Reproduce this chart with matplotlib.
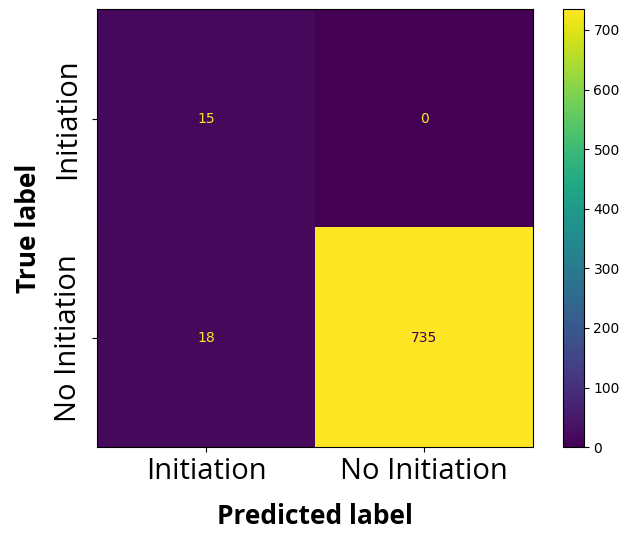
import numpy as np
import matplotlib
matplotlib.use('Agg')
from matplotlib import pyplot as plt

# class names and counts
labels = ['Initiation', 'No Initiation']
counts = [[15, 0],
          [18, 735]]
cbar_ticks = [0, 100, 200, 300, 400, 500, 600, 700]

cm = np.array(counts)

fig = plt.figure(figsize=(6.27, 5.33), dpi=100)
ax = fig.add_axes([0.155, 0.161, 0.695, 0.822])
cax = fig.add_axes([0.898, 0.161, 0.033, 0.822])

cmap = plt.get_cmap('viridis')
im = ax.imshow(cm, cmap=cmap, aspect='auto', vmin=0, vmax=cm.max())

thresh = (cm.max() + cm.min()) / 2.0
for i in range(cm.shape[0]):
    for j in range(cm.shape[1]):
        # light text on dark cells, dark text on light ones
        c = cmap(1.0) if cm[i, j] < thresh else cmap(0.0)
        ax.text(j, i, str(cm[i, j]), ha='center', va='center', color=c, fontsize=10)

big = ['Open Sans', 'DejaVu Sans']
ax.set_xticks(range(len(labels)))
ax.set_yticks(range(len(labels)))
ax.set_xticklabels(labels, fontsize=21, family=big)
ax.set_yticklabels(labels, fontsize=21, family=big, rotation=90, va='center')
ax.tick_params(axis='y', pad=7)
ax.set_xlabel('Predicted label', fontsize=19, fontweight='bold', family=big, labelpad=12)
ax.set_ylabel('True label', fontsize=19, fontweight='bold', family=big, labelpad=8)

cb = fig.colorbar(im, cax=cax)
cb.set_ticks(cbar_ticks)
cb.ax.tick_params(labelsize=10)

fig.savefig('out.png', dpi=100)
